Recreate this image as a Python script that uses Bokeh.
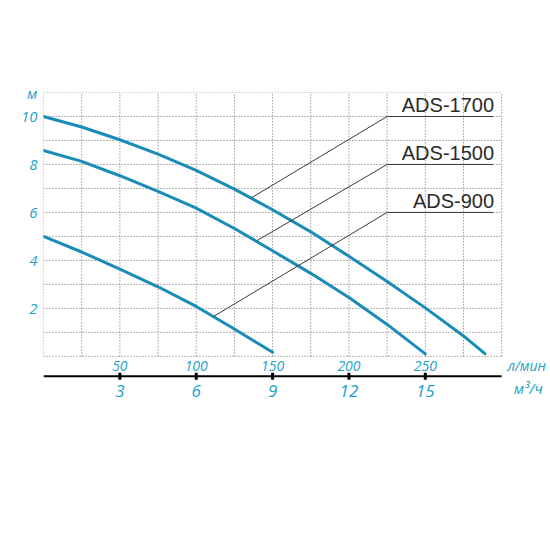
from bokeh.plotting import figure
from bokeh.models import Range1d, LinearAxis, FixedTicker
from bokeh.core.properties import value
from bokeh.embed import file_html
from bokeh.resources import INLINE

# ---- data ----
flow_1700 = [0, 25, 50, 75, 100, 125, 150, 175, 200, 225, 250, 275, 289]
head_1700 = [10.0, 9.56, 9.03, 8.43, 7.75, 6.97, 6.11, 5.19, 4.17, 3.12, 2.02, 0.85, 0.11]

flow_1500 = [0, 25, 50, 75, 100, 125, 150, 175, 200, 225, 250]
head_1500 = [8.58, 8.13, 7.53, 6.88, 6.18, 5.33, 4.4, 3.46, 2.45, 1.33, 0.1]

flow_900 = [0, 25, 50, 75, 100, 125, 150]
head_900 = [5.0, 4.35, 3.64, 2.9, 2.08, 1.14, 0.17]

model_names = ["ADS-1700", "ADS-1500", "ADS-900"]
callout_anchor_x = [136.4, 139.7, 111.3]
callout_anchor_y = [6.62, 4.82, 1.66]
callout_elbow_x = [225, 225, 225]
callout_level_y = [10, 8, 6]
callout_end_x = [294.5, 294.5, 294.5]

lpm_ticks = [50, 100, 150, 200, 250]
m3h_ticks = [3, 6, 9, 12, 15]
head_ticks = [2, 4, 6, 8, 10, 11]
x_grid = list(range(0, 301, 25))
y_grid = list(range(0, 12))
x_max, y_max = 300, 11
unit_lpm = "л/мин"
unit_m3h = "м³/ч"

LPM_PER_M3H = 1000 / 60

CURVE = "#1a8cb8"
LABEL = "#22a2c8"
FONT = "Open Sans"

p = figure(frame_width=504, frame_height=319,
           x_range=Range1d(0, 330), y_range=Range1d(-2.3, 11),
           x_axis_location=None, y_axis_location=None,
           min_border_left=43, min_border_right=3, min_border_top=92, min_border_bottom=20,
           output_backend="svg", toolbar_location=None)
p.outline_line_color = None
p.xgrid.visible = False
p.ygrid.visible = False
p.background_fill_color = "white"
p.border_fill_color = "white"

# dotted grid (only over the chart area)
grid_style = dict(line_color="#6f6f6f", line_dash="1 2", line_width=1)
p.segment(x0=x_grid, y0=[0] * len(x_grid), x1=x_grid, y1=[y_max] * len(x_grid), **grid_style)
p.segment(x0=[0] * len(y_grid), y0=y_grid, x1=[x_max] * len(y_grid), y1=y_grid, **grid_style)

# left axis (head, m)
yax = LinearAxis(ticker=FixedTicker(ticks=head_ticks),
                 major_label_overrides={11: "м"})
yax.axis_line_color = None
yax.major_tick_line_color = None
yax.minor_tick_line_color = None
yax.major_tick_out = 0
yax.major_label_standoff = 6
yax.major_label_text_font = FONT
yax.major_label_text_font_style = "italic"
yax.major_label_text_font_size = "15px"
yax.major_label_text_color = LABEL
p.add_layout(yax, "left")

# flow axis: l/min labels, m3/h axis line with ticks and labels
lpm_label_y = -0.42
axis_y = -0.833
m3h_label_y = -1.46
p.text(x=lpm_ticks, y=[lpm_label_y] * len(lpm_ticks), text=[str(t) for t in lpm_ticks],
       text_align="center", text_baseline="middle", text_font=value(FONT),
       text_font_style="italic", text_font_size="14px", text_color=LABEL)
p.segment(x0=[0], y0=[axis_y], x1=[x_max], y1=[axis_y], line_color="black", line_width=2)
m3h_x = [t * LPM_PER_M3H for t in m3h_ticks]
p.rect(x=m3h_x, y=[axis_y] * len(m3h_x), width=3, height=7,
       width_units="screen", height_units="screen", fill_color="black", line_color=None)
p.text(x=m3h_x, y=[m3h_label_y] * len(m3h_x), text=[str(t) for t in m3h_ticks],
       text_align="center", text_baseline="middle", text_font=value(FONT),
       text_font_style="italic", text_font_size="17px", text_color=LABEL)

# unit labels
p.text(x=[329], y=[-0.39], text=[unit_lpm], text_align="right", text_baseline="middle",
       text_font=value(FONT), text_font_style="italic", text_font_size="14px", text_color=LABEL)
p.text(x=[327], y=[-1.3], text=[unit_m3h], text_align="right", text_baseline="middle",
       text_font=value(FONT), text_font_style="italic", text_font_size="15px", text_color=LABEL)

# curves
for fx, hy in ((flow_1700, head_1700), (flow_1500, head_1500), (flow_900, head_900)):
    p.line(fx, hy, line_color=CURVE, line_width=3, line_cap="round", line_join="round")

# callouts
xs = [[ax_, ex, en] for ax_, ex, en in zip(callout_anchor_x, callout_elbow_x, callout_end_x)]
ys = [[ay, ly, ly] for ay, ly in zip(callout_anchor_y, callout_level_y)]
p.multi_line(xs, ys, line_color="#3a3a3a", line_width=1)

p.text(x=[e + 0.5 for e in callout_end_x], y=[l + 0.03 for l in callout_level_y], text=model_names,
       text_align="right", text_baseline="bottom",
       text_font=value("Liberation Sans"), text_font_size="20px", text_color="#2b2b2b")

open("out.html", "w").write(file_html(p, INLINE))
